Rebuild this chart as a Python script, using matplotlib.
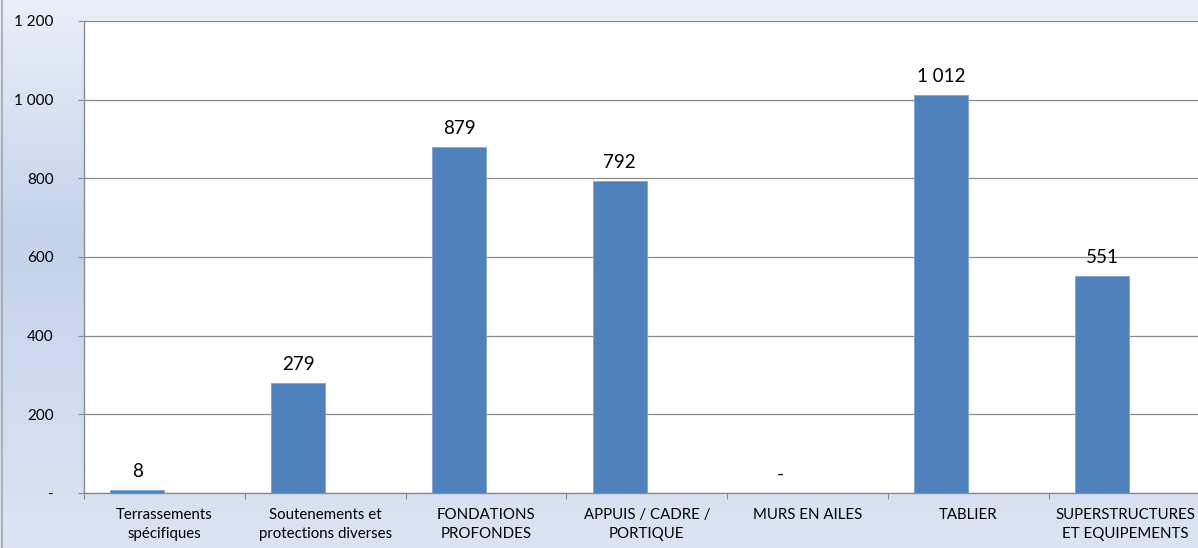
import matplotlib
matplotlib.use("Agg")
import matplotlib.pyplot as plt
import numpy as np
from matplotlib.colors import LinearSegmentedColormap

categories = ["Terrassements\nspécifiques", "Soutenements et\nprotections diverses",
              "FONDATIONS\nPROFONDES", "APPUIS / CADRE /\nPORTIQUE", "MURS EN AILES",
              "TABLIER", "SUPERSTRUCTURES\nET EQUIPEMENTS"]
values = [8, 279, 879, 792, 0, 1012, 551]
value_labels = ["8", "279", "879", "792", "-", "1 012", "551"]
yticks = [0, 200, 400, 600, 800, 1000, 1200]
ytick_labels = ["-", "200", "400", "600", "800", "1 000", "1 200"]

plt.rcParams['font.family'] = ['Lato', 'DejaVu Sans']

W, H = 1198, 548
fig = plt.figure(figsize=(W/100, H/100), dpi=100)

# background gradient
bg = fig.add_axes([0, 0, 1, 1], zorder=-10)
cmap = LinearSegmentedColormap.from_list("bg", [(0, "#EAEFF9"), (0.43, "#C3D2EA"), (1.0, "#DCE4F3")])
grad = np.linspace(0, 1, 256).reshape(-1, 1)
bg.imshow(grad, aspect="auto", cmap=cmap, extent=[0, 1, 0, 1], origin="upper")
bg.set_xlim(0, 1); bg.set_ylim(0, 1)
bg.axis("off")
bg.axvline(1.5/W, color="#A6A6A6", lw=1.2)

cat_w = 160.8
left = 84 / W
width = 7 * cat_w / W
bottom = (H - 493) / H
top = (H - 21) / H
ax = fig.add_axes([left, bottom, width, top - bottom])
ax.set_facecolor("white")

x = np.arange(len(categories))
bw = 0.335
xb = x - 0.168
ax.bar(xb, values, width=bw, color="#4F81BD", edgecolor="#7FA3D1", linewidth=0.6, zorder=3)
for xi, v, lab in zip(xb, values, value_labels):
    ax.text(xi, v + 26, lab, ha="center", va="bottom", fontsize=13.5, color="black", zorder=4)

ax.set_xlim(-0.5, 6.5)
ax.set_ylim(0, 1200)
ax.set_yticks(yticks)
ax.set_yticklabels(ytick_labels, fontsize=11)
ax.yaxis.grid(True, color="#8C8C8C", lw=0.9, zorder=0)
ax.set_axisbelow(True)

ax.set_xticks(np.arange(-0.5, 7.0, 1.0))
ax.set_xticklabels([])
ax.set_xticks(x, minor=True)
ax.set_xticklabels(categories, minor=True, fontsize=10.8, linespacing=1.45)
ax.tick_params(axis="x", which="minor", length=0, pad=11)
ax.tick_params(axis="x", which="major", length=4, color="#8C8C8C", direction="out")
ax.tick_params(axis="y", length=4, color="#8C8C8C", direction="out", pad=18)
for lab in ax.get_yticklabels():
    lab.set_horizontalalignment("right")
# last label sits at the figure edge: nudge it left slightly
last = ax.get_xticklabels(minor=True)[-1]
from matplotlib.transforms import ScaledTranslation
last.set_transform(last.get_transform() + ScaledTranslation(-4/100, 0, fig.dpi_scale_trans))

for s in ["top", "right"]:
    ax.spines[s].set_visible(False)
for s in ["left", "bottom"]:
    ax.spines[s].set_color("#8C8C8C")
    ax.spines[s].set_linewidth(1.0)

fig.savefig("out.png", dpi=100)
